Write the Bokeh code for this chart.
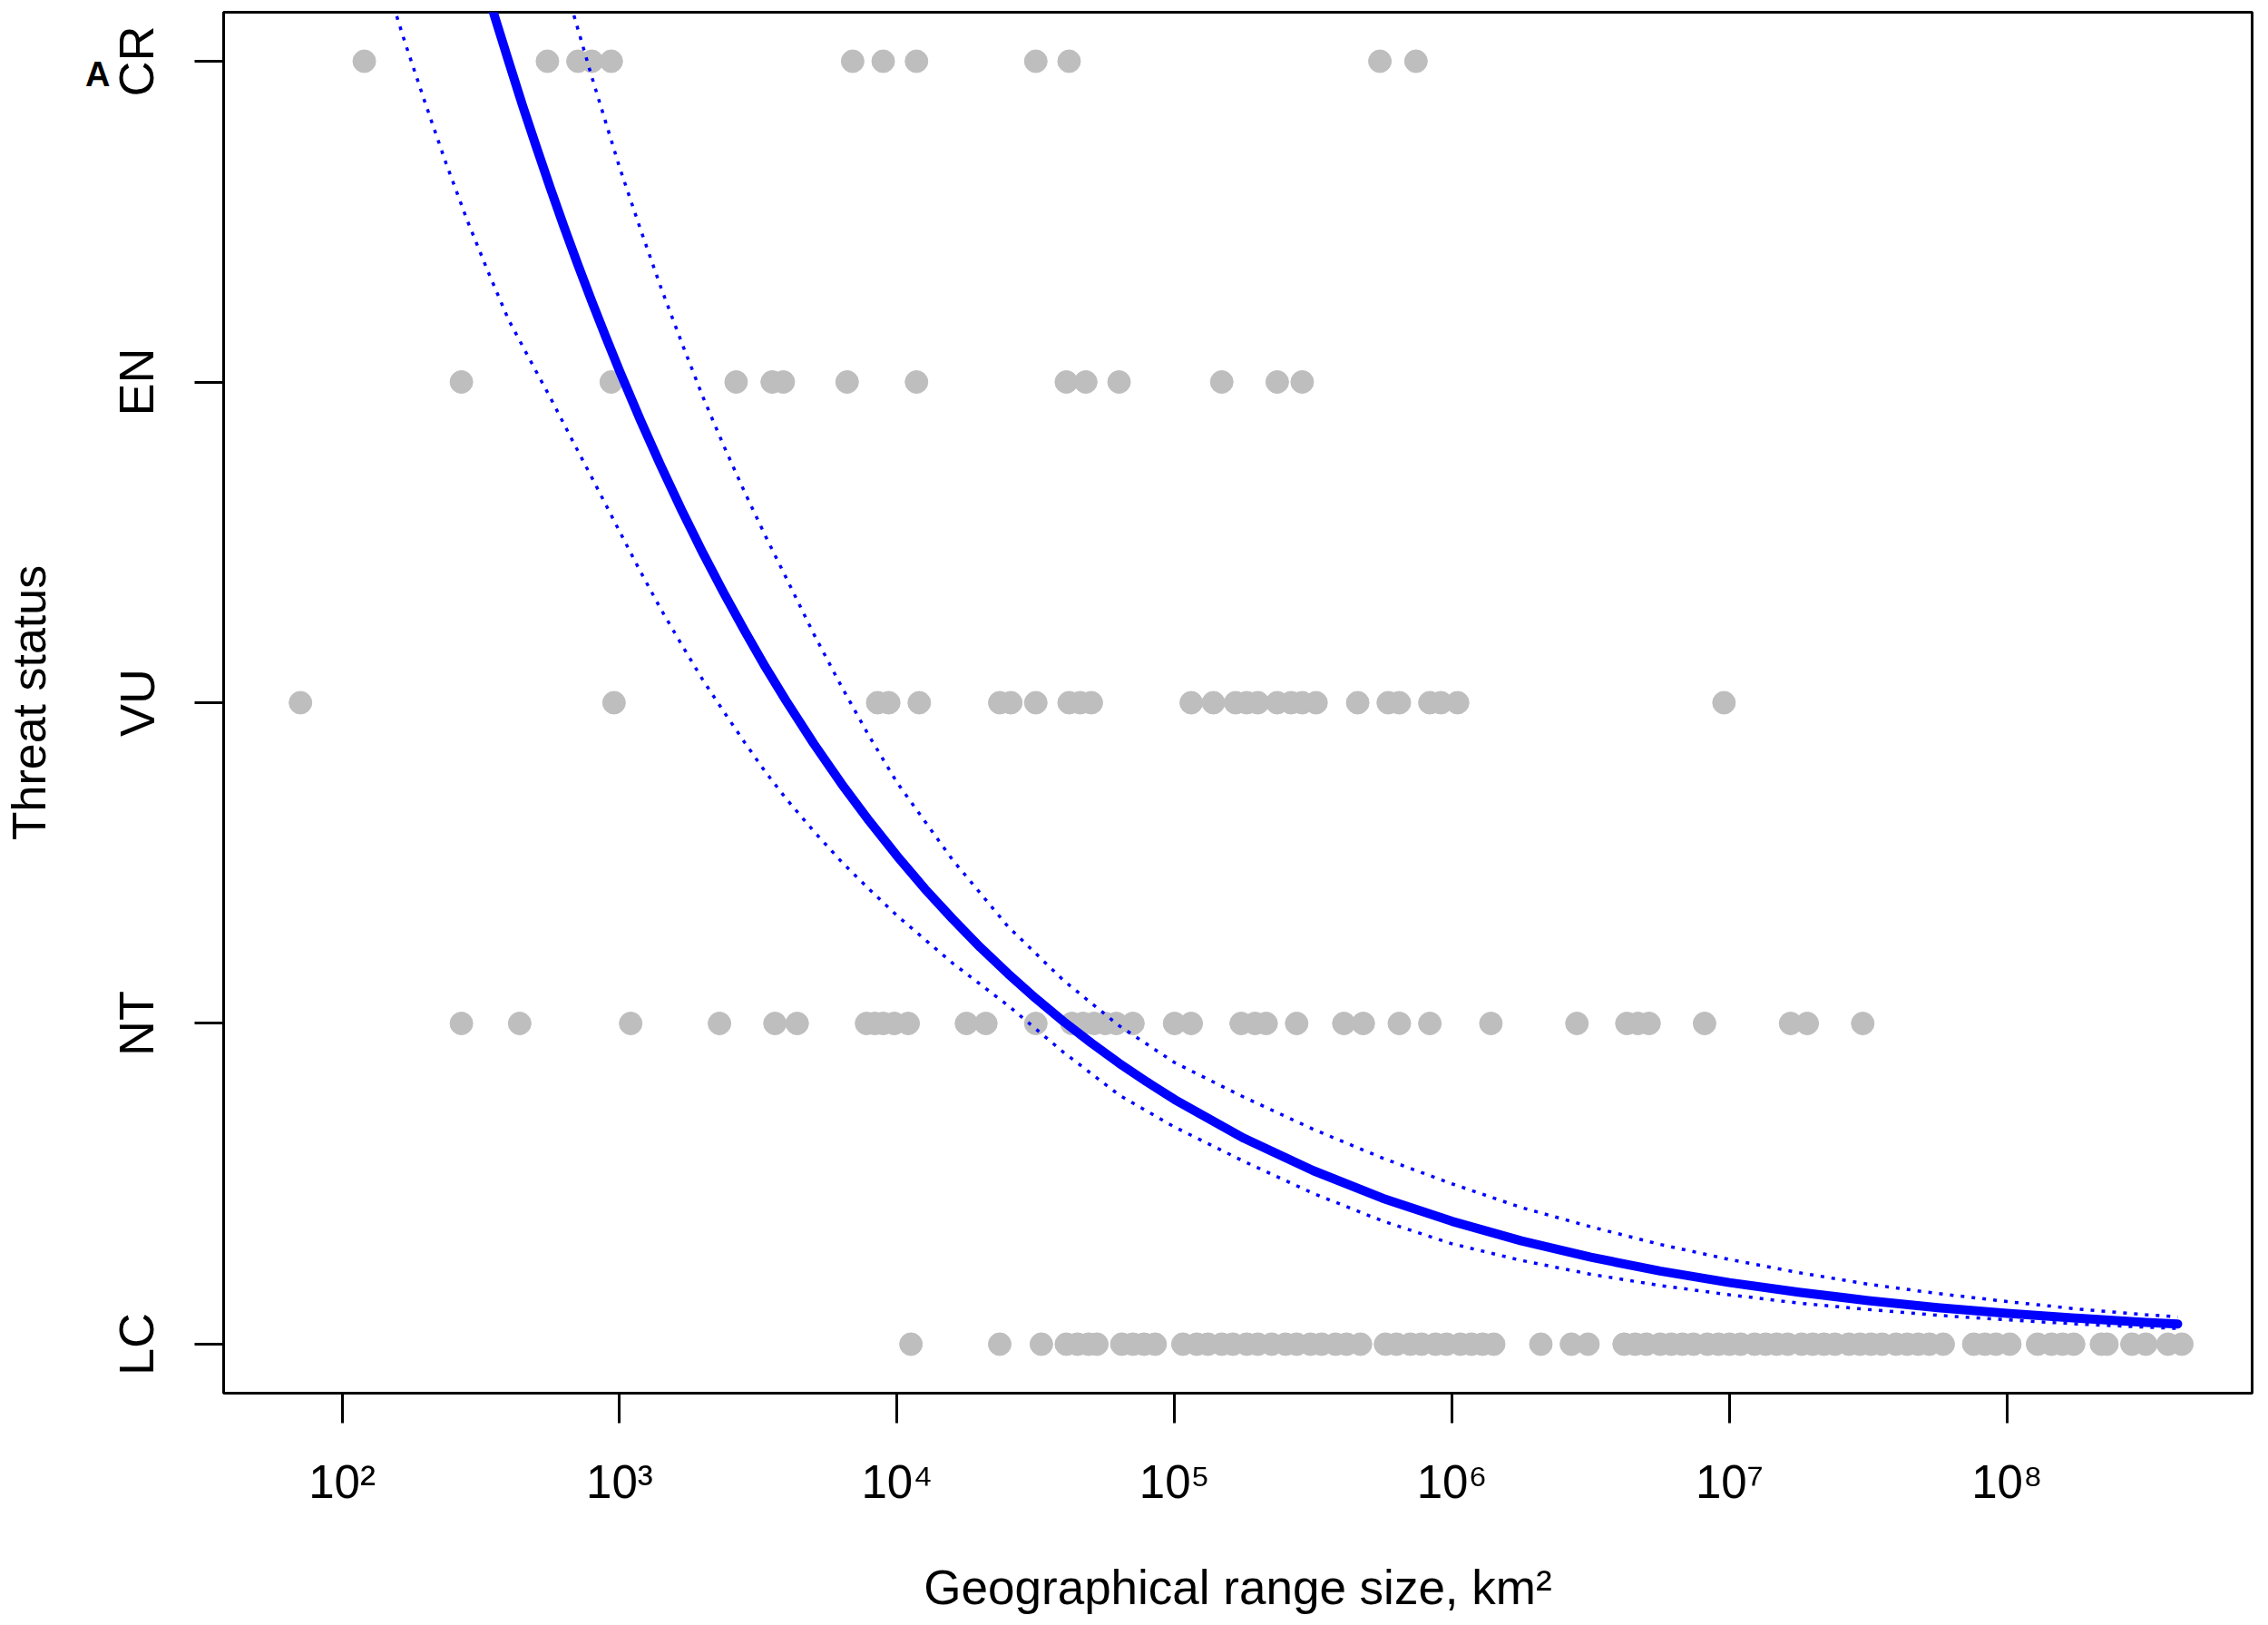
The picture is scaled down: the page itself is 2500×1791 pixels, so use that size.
import numpy as np
from bokeh.plotting import figure
from bokeh.models import FixedTicker, Range1d, LinearAxis, ColumnDataSource
from bokeh.embed import file_html
from bokeh.resources import INLINE

# ---------------- data ----------------
status_labels = ["LC", "NT", "VU", "EN", "CR"]
status_levels = [1, 2, 3, 4, 5]
panel_letter = "A"

# log10 of geographical range size (km2) per species, by threat status
cr_log10_km2 = [2.08, 2.74, 2.85, 2.90, 2.97, 3.84, 3.95, 4.07, 4.50, 4.62, 5.74, 5.87]
en_log10_km2 = [2.43, 2.97, 3.42, 3.55, 3.59, 3.82, 4.07, 4.61, 4.68, 4.80, 5.17, 5.37, 5.46]
vu_log10_km2 = [1.85, 2.98, 3.93, 3.97, 4.08, 4.37, 4.41, 4.50, 4.62, 4.66, 4.70, 5.06,
                5.14, 5.22, 5.26, 5.30, 5.37, 5.42, 5.46, 5.51, 5.66, 5.77, 5.81, 5.92,
                5.96, 6.02, 6.98]
nt_log10_km2 = [2.43, 2.64, 3.04, 3.36, 3.56, 3.64, 3.89, 3.92, 3.95, 3.99, 4.04, 4.25,
                4.32, 4.50, 4.63, 4.67, 4.71, 4.75, 4.79, 4.85, 5.00, 5.06, 5.24, 5.29,
                5.33, 5.44, 5.61, 5.68, 5.81, 5.92, 6.14, 6.45, 6.63, 6.67, 6.71, 6.91,
                7.22, 7.28, 7.48]
lc_log10_km2 = [4.05, 4.37, 4.52, 4.61, 4.65, 4.69, 4.72, 4.81, 4.85, 4.89, 4.93,
                5.03, 5.08, 5.12, 5.17, 5.21, 5.26, 5.30, 5.35, 5.40, 5.44, 5.49, 5.53,
                5.58, 5.62, 5.67, 5.76, 5.80, 5.85, 5.89, 5.94, 5.98, 6.03, 6.07, 6.11,
                6.15, 6.32, 6.43, 6.49, 6.62, 6.66, 6.70, 6.75, 6.79, 6.83, 6.87, 6.92,
                6.96, 7.00, 7.04, 7.09, 7.13, 7.17, 7.21, 7.26, 7.30, 7.34, 7.38, 7.43,
                7.47, 7.51, 7.55, 7.60, 7.64, 7.68, 7.72, 7.77, 7.88, 7.92, 7.96, 8.01,
                8.11, 8.16, 8.20, 8.24, 8.34, 8.36, 8.45, 8.50, 8.58, 8.63]

# fitted curve (solid) and its confidence limits (dotted)
fit_log10_km2 = [2.50, 2.55, 2.60, 2.65, 2.70, 2.75, 2.80, 2.85, 2.90, 2.95, 3.00, 3.075,
                 3.15, 3.225, 3.30, 3.375, 3.45, 3.525, 3.60, 3.70, 3.80, 3.90, 4.00, 4.10,
                 4.20, 4.30, 4.40, 4.50, 4.60, 4.70, 4.80, 4.90, 5.00, 5.25, 5.50, 5.75,
                 6.00, 6.25, 6.50, 6.75, 7.00, 7.25, 7.50, 7.75, 8.00, 8.25, 8.50, 8.615]
fit_status = [5.284, 5.139, 5.000, 4.863, 4.733, 4.606, 4.483, 4.365, 4.251, 4.141, 4.034,
              3.881, 3.736, 3.598, 3.467, 3.343, 3.225, 3.112, 3.006, 2.872, 2.747, 2.631,
              2.522, 2.420, 2.326, 2.237, 2.155, 2.078, 2.006, 1.939, 1.876, 1.818, 1.763,
              1.642, 1.541, 1.455, 1.383, 1.322, 1.271, 1.228, 1.192, 1.162, 1.136, 1.114,
              1.096, 1.081, 1.068, 1.063]

upper_log10_km2 = [2.75, 2.825, 2.90, 2.95, 3.00, 3.075, 3.15, 3.225, 3.30, 3.375, 3.45,
                   3.525, 3.60, 3.70, 3.80, 3.90, 4.00, 4.20, 4.40, 4.60, 4.80, 5.00, 5.25,
                   5.50, 5.75, 6.00, 6.25, 6.50, 6.75, 7.00, 7.25, 7.50, 7.75, 8.00, 8.25,
                   8.50, 8.615]
upper_status = [5.404, 5.174, 4.951, 4.810, 4.669, 4.477, 4.292, 4.120, 3.954, 3.802, 3.658,
                3.521, 3.390, 3.214, 3.050, 2.895, 2.751, 2.510, 2.302, 2.134, 1.993, 1.878,
                1.770, 1.670, 1.580, 1.500, 1.426, 1.366, 1.311, 1.264, 1.223, 1.187, 1.158,
                1.133, 1.110, 1.092, 1.085]

lower_log10_km2 = [2.15, 2.225, 2.30, 2.375, 2.45, 2.525, 2.60, 2.675, 2.75, 2.825, 2.90,
                   2.95, 3.00, 3.075, 3.15, 3.225, 3.30, 3.375, 3.45, 3.525, 3.60, 3.70,
                   3.80, 3.90, 4.00, 4.20, 4.40, 4.60, 4.80, 5.00, 5.25, 5.50, 5.75, 6.00,
                   6.25, 6.50, 6.75, 7.00, 7.25, 7.50, 7.75, 8.00, 8.25, 8.50, 8.615]
lower_status = [5.270, 5.063, 4.869, 4.681, 4.506, 4.346, 4.194, 4.072, 3.952, 3.826, 3.702,
                3.618, 3.534, 3.409, 3.290, 3.179, 3.071, 2.973, 2.877, 2.785, 2.701, 2.599,
                2.504, 2.418, 2.336, 2.188, 2.056, 1.910, 1.777, 1.677, 1.570, 1.470, 1.384,
                1.313, 1.261, 1.218, 1.183, 1.154, 1.128, 1.108, 1.090, 1.076, 1.063, 1.053,
                1.049]

x_tick_values = [1e2, 1e3, 1e4, 1e5, 1e6, 1e7, 1e8]
x_tick_labels = ["10\u00b2", "10\u00b3", "10\u2074", "10\u2075", "10\u2076", "10\u2077", "10\u2078"]

# ---------------- figure ----------------
FONT = "Liberation Sans"

p = figure(width=2484, height=1783, x_axis_type="log",
           x_range=Range1d(10 ** 1.5731, 10 ** 8.8832),
           y_range=Range1d(0.8472, 5.1528),
           output_backend="svg", toolbar_location=None,
           min_border_left=239, min_border_right=2, min_border_top=13, min_border_bottom=248)

p.background_fill_color = "white"
p.border_fill_color = "white"
p.outline_line_color = "black"
p.outline_line_width = 3
p.xgrid.visible = False
p.ygrid.visible = False

# points
groups = [(lc_log10_km2, 1), (nt_log10_km2, 2), (vu_log10_km2, 3), (en_log10_km2, 4), (cr_log10_km2, 5)]
xs, ys = [], []
for vals, lev in groups:
    xs.extend(10 ** np.array(vals))
    ys.extend([lev] * len(vals))
pts = ColumnDataSource(dict(x=xs, y=ys))
p.scatter("x", "y", source=pts, marker="circle", size=25,
          fill_color="#BEBEBE", line_color="#BEBEBE", line_width=1)

# curves
p.line(10 ** np.array(lower_log10_km2), lower_status, line_color="#0000FF",
       line_width=3.5, line_dash="4 8")
p.line(10 ** np.array(upper_log10_km2), upper_status, line_color="#0000FF",
       line_width=3.5, line_dash="4 8")
p.line(10 ** np.array(fit_log10_km2), fit_status, line_color="#0000FF",
       line_width=10, line_cap="round", line_join="round")

# axes
for ax in (p.xaxis[0], p.yaxis[0]):
    ax.axis_line_color = None
    ax.major_tick_in = 0
    ax.major_tick_line_width = 3
    ax.major_tick_line_color = "black"
    ax.minor_tick_line_color = None
    ax.major_label_text_font = FONT
    ax.major_label_text_color = "black"
    ax.axis_label_text_font = FONT
    ax.axis_label_text_font_style = "normal"
    ax.axis_label_text_color = "black"

p.xaxis.ticker = FixedTicker(ticks=x_tick_values)
p.xaxis.major_label_overrides = dict(zip(x_tick_values, x_tick_labels))
p.xaxis.major_label_text_font_size = "51px"
p.xaxis.major_tick_out = 33
p.xaxis.major_label_standoff = 36
p.xaxis.axis_label = "Geographical range size, km\u00b2"
p.xaxis.axis_label_text_font_size = "53px"
p.xaxis.axis_label_standoff = 55

p.yaxis.ticker = FixedTicker(ticks=status_levels)
p.yaxis.major_label_overrides = dict(zip(status_levels, status_labels))
p.yaxis.major_label_orientation = "vertical"
p.yaxis.major_label_text_font_size = "54px"
p.yaxis.major_tick_out = 32
p.yaxis.major_label_standoff = 34

# outer left axis: carries the panel letter and the y title
letter_pos = 4.959
outer = LinearAxis(ticker=FixedTicker(ticks=[letter_pos]),
                   major_label_overrides={letter_pos: panel_letter},
                   major_label_orientation="horizontal",
                   major_label_text_font=FONT, major_label_text_font_style="bold",
                   major_label_text_font_size="38px", major_label_text_color="black",
                   major_label_standoff=-4,
                   major_tick_line_color=None, minor_tick_line_color=None,
                   major_tick_in=0, major_tick_out=0, axis_line_color=None,
                   axis_label="Threat status", axis_label_text_font=FONT,
                   axis_label_text_font_size="52px", axis_label_text_font_style="normal",
                   axis_label_text_color="black", axis_label_standoff=30)
p.add_layout(outer, "left")

open("out.html", "w").write(file_html(p, INLINE))
